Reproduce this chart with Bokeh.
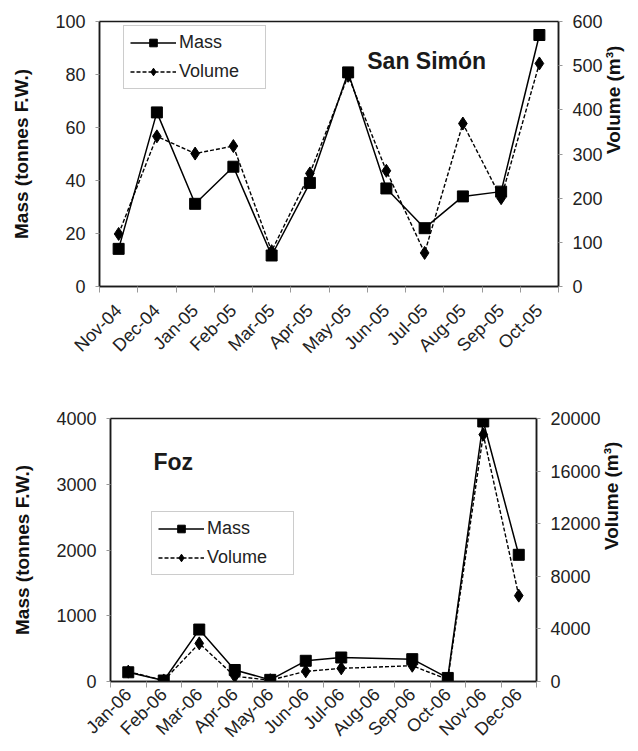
import math
from bokeh.plotting import figure
from bokeh.models import (Range1d, LinearAxis, FixedTicker, Legend, LegendItem,
                          Label, ColumnDataSource)
from bokeh.embed import file_html
from bokeh.resources import INLINE

FONT = "Liberation Sans"

# ---- San Simón (top panel) ----
top_months = ["Nov-04", "Dec-04", "Jan-05", "Feb-05", "Mar-05", "Apr-05",
              "May-05", "Jun-05", "Jul-05", "Aug-05", "Sep-05", "Oct-05"]
top_mass = [14.2, 65.7, 31.2, 45.2, 11.7, 39.1, 80.8, 37.0, 22.0, 34.0, 35.8, 94.9]
top_volume = [119, 340, 301, 318, 80, 256, 477, 262, 76, 369, 200, 505]
top_mass_ticks = [0, 20, 40, 60, 80, 100]
top_vol_ticks = [0, 100, 200, 300, 400, 500, 600]

# ---- Foz (bottom panel) ----
bot_months = ["Jan-06", "Feb-06", "Mar-06", "Apr-06", "May-06", "Jun-06",
              "Jul-06", "Aug-06", "Sep-06", "Oct-06", "Nov-06", "Dec-06"]
bot_mass = [140, 15, 790, 175, 25, 315, 365, None, 340, 54, 3955, 1927]
bot_volume = [750, 80, 2900, 400, 100, 775, 1000, None, 1200, 150, 18775, 6530]
bot_mass_ticks = [0, 1000, 2000, 3000, 4000]
bot_vol_ticks = [0, 4000, 8000, 12000, 16000, 20000]


def panel(months, mass, volume, mticks, vticks, title, title_pos, legend_loc,
          height, borders, xstandoff):
    n = len(months)
    centers = [i + 0.5 for i in range(n)]
    p = figure(width=638, height=height, output_backend="svg",
               toolbar_location=None, x_range=Range1d(0, n),
               y_range=Range1d(mticks[0], mticks[-1]))
    p.min_border_left, p.min_border_right, p.min_border_top, p.min_border_bottom = borders
    p.background_fill_color = "white"
    p.border_fill_color = "white"
    p.outline_line_color = "#1a1a1a"
    p.outline_line_width = 1.5
    p.xgrid.visible = False
    p.ygrid.visible = False
    p.extra_y_ranges = {"vol": Range1d(vticks[0], vticks[-1])}

    # x axis
    xa = p.xaxis[0]
    xa.ticker = FixedTicker(ticks=centers, minor_ticks=list(range(n + 1)))
    xa.major_label_overrides = {c: m for c, m in zip(centers, months)}
    xa.major_label_orientation = math.pi / 4
    xa.major_tick_out = 0
    xa.major_tick_in = 0
    xa.minor_tick_out = 6
    xa.minor_tick_in = 0
    xa.minor_tick_line_color = "#999999"
    xa.axis_line_color = "#1a1a1a"
    xa.axis_line_width = 1.5
    xa.major_label_text_font = FONT
    xa.major_label_text_font_size = "18px"
    xa.major_label_text_color = "#222222"
    xa.major_label_standoff = xstandoff

    # left axis
    ya = p.yaxis[0]
    ya.ticker = FixedTicker(ticks=mticks)
    ya.minor_tick_line_color = None
    ya.major_tick_out = 4
    ya.major_tick_in = 0
    ya.major_tick_line_color = "#999999"
    ya.axis_line_color = "#1a1a1a"
    ya.axis_line_width = 1.5
    ya.major_label_text_font = FONT
    ya.major_label_text_font_size = "18px"
    ya.major_label_text_color = "#222222"
    ya.major_label_standoff = 10
    ya.axis_label = "Mass (tonnes F.W.)"
    ya.axis_label_text_font = FONT
    ya.axis_label_text_font_style = "bold"
    ya.axis_label_text_font_size = "19px"
    ya.axis_label_text_color = "#111111"
    ya.axis_label_standoff = 20

    # right axis
    ra = LinearAxis(y_range_name="vol", ticker=FixedTicker(ticks=vticks))
    ra.minor_tick_line_color = None
    ra.major_tick_out = 4
    ra.major_tick_in = 0
    ra.major_tick_line_color = "#999999"
    ra.axis_line_color = "#1a1a1a"
    ra.axis_line_width = 1.5
    ra.major_label_text_font = FONT
    ra.major_label_text_font_size = "18px"
    ra.major_label_text_color = "#222222"
    ra.major_label_standoff = 10
    ra.axis_label = "Volume (m³)"
    ra.axis_label_orientation = math.pi / 2
    ra.axis_label_text_font = FONT
    ra.axis_label_text_font_style = "bold"
    ra.axis_label_text_font_size = "19px"
    ra.axis_label_text_color = "#111111"
    ra.axis_label_text_baseline = "bottom"
    ra.axis_label_standoff = 8
    p.add_layout(ra, "right")

    ms = ColumnDataSource(dict(
        x=[c for c, v in zip(centers, mass) if v is not None],
        y=[v for v in mass if v is not None]))
    vs = ColumnDataSource(dict(
        x=[c for c, v in zip(centers, volume) if v is not None],
        y=[v for v in volume if v is not None]))

    vl = p.line("x", "y", source=vs, y_range_name="vol", line_color="black",
                line_width=1.4, line_dash="4 2")
    vm = p.scatter("x", "y", source=vs, y_range_name="vol", marker="diamond",
                   size=13, fill_color="black", line_color="black")
    ml = p.line("x", "y", source=ms, line_color="black", line_width=1.5)
    mm = p.scatter("x", "y", source=ms, marker="square", size=11,
                   fill_color="black", line_color="black")

    leg = Legend(items=[LegendItem(label="Mass", renderers=[ml, mm]),
                        LegendItem(label="Volume", renderers=[vl, vm])],
                 location=legend_loc)
    leg.label_text_font = FONT
    leg.label_text_font_size = "18px"
    leg.label_text_color = "#222222"
    leg.glyph_width = 46
    leg.glyph_height = 19
    leg.label_height = 19
    leg.label_width = 80
    leg.label_standoff = 3
    leg.spacing = 8
    leg.padding = 6
    leg.margin = 0
    leg.border_line_color = "#999999"
    leg.border_line_width = 1
    leg.background_fill_alpha = 1
    leg.background_fill_color = "white"
    p.add_layout(leg)

    p.add_layout(Label(x=title_pos[0], y=title_pos[1], text=title,
                       text_font=FONT, text_font_style="bold",
                       text_font_size="23px", text_color="#1a1a1a",
                       text_baseline="alphabetic"))
    return p


p1 = panel(top_months, top_mass, top_volume, top_mass_ticks, top_vol_ticks,
           "San Simón", (7.0, 85.2), (24, 197), 390, (99, 80, 21, 104), 15)
p2 = panel(bot_months, bot_mass, bot_volume, bot_mass_ticks, bot_vol_ticks,
           "Foz", (1.21, 3343), (41, 106), 361, (110, 102, 28, 67), 4)

open("out.html", "w").write(file_html([p1, p2], INLINE))
